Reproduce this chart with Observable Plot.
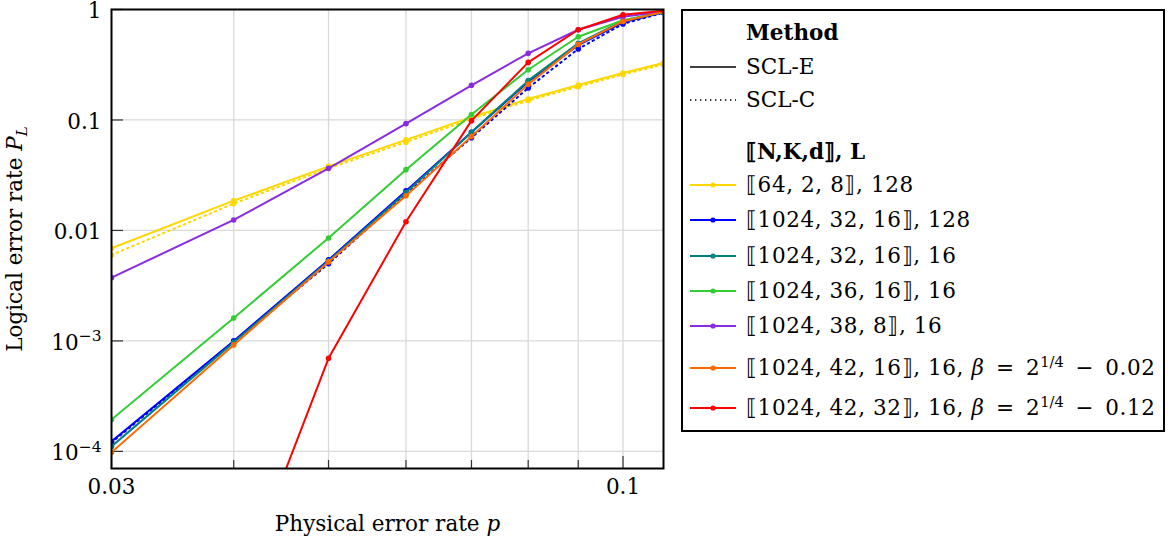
<!DOCTYPE html>
<html><head><meta charset="utf-8">
<script src="https://cdn.jsdelivr.net/npm/d3@7"></script>
<script src="https://cdn.jsdelivr.net/npm/@observablehq/plot@0.6"></script>
<style>
body{margin:0;background:#fff;}
#wrap{position:relative;width:1168px;height:540px;font-family:"DejaVu Serif",serif;}
#legend{position:absolute;left:681px;top:9px;width:480px;height:419px;border:2px solid #000;background:#fff;box-sizing:content-box;}
.row{position:absolute;left:0;height:34px;display:flex;align-items:center;font-size:21.5px;white-space:nowrap;color:#000;}
.row svg{margin-left:7px;margin-right:10px;flex:none;}
.row .t{line-height:1}
.row .m{letter-spacing:0.6px}
.row .op{margin:0 4px}
.row sup{font-size:0.68em;vertical-align:0.55em;line-height:0;letter-spacing:0}
</style></head><body><div id="wrap"></div>
<script>
// ---- data ----
const p = [0.03, 0.04, 0.05, 0.06, 0.07, 0.08, 0.09, 0.1, 0.11];

const seriesLabels = [
  "⟦64, 2, 8⟧, 128",
  "⟦1024, 32, 16⟧, 128",
  "⟦1024, 32, 16⟧, 16",
  "⟦1024, 36, 16⟧, 16",
  "⟦1024, 38, 8⟧, 16",
  "⟦1024, 42, 16⟧, 16, <i>β</i> <span class=\"op\">=</span> 2<sup>1/4</sup> <span class=\"op\">−</span> 0.02",
  "⟦1024, 42, 32⟧, 16, <i>β</i> <span class=\"op\">=</span> 2<sup>1/4</sup> <span class=\"op\">−</span> 0.12"
];
const seriesColors = ["#ffd700", "#0000ff", "#008080", "#33cc33", "#8a2be2", "#ff6a00", "#ff0000"];

// SCL-E (solid)
const yellowE = [6.9e-3, 0.0186, 0.038, 0.066, 0.106, 0.155, 0.207, 0.266, 0.328];
const blueE   = [1.23e-4, 1.0e-3, 5.41e-3, 0.0228, 0.0775, 0.222, 0.475, 0.765, 0.94];
const tealE   = [1.11e-4, 9.7e-4, 5.3e-3, 0.0220, 0.0773, 0.227, 0.494, 0.79, 0.95];
const greenE  = [1.94e-4, 1.61e-3, 8.55e-3, 0.0355, 0.112, 0.285, 0.567, 0.80, 0.945];
const purpleE = [3.74e-3, 0.01245, 0.0365, 0.0926, 0.206, 0.401, 0.656, 0.86, 0.96];
const orangeE = [9.8e-5, 9.2e-4, 5.19e-3, 0.0206, 0.071, 0.21, 0.483, 0.78, 0.955];
const redE    = [null, 4.1e-6, 6.96e-4, 0.0120, 0.0986, 0.332, 0.656, 0.897, 0.975];

// SCL-C (dotted)
const yellowC = [6.0e-3, 0.0175, 0.0365, 0.063, 0.102, 0.150, 0.200, 0.258, 0.318];
const blueC   = [1.2e-4, 9.8e-4, 5.0e-3, 0.0215, 0.069, 0.195, 0.44, 0.74, 0.935];

const seriesE = [yellowE, blueE, tealE, greenE, purpleE, orangeE, redE];
const seriesC = [yellowC, blueC, null, null, null, null, null];

const xGrid = [0.04, 0.05, 0.06, 0.07, 0.08, 0.09, 0.1];
const xMinorTicks = [0.04, 0.05, 0.06, 0.07, 0.08, 0.09];
const xTicks = [0.03, 0.1];
const xTickLabels = ["0.03", "0.1"];
const yTicks = [1e-4, 1e-3, 1e-2, 1e-1, 1];
const yTickLabels = ["10^−4", "10^−3", "0.01", "0.1", "1"];

// ---- layout ----
const W = 1168, H = 540, mL = 111, mR = 505, mT = 9, mB = 72;
const frameH = H - mT - mB, frameW = W - mL - mR;

function toRows(vals, i) {
  const out = [];
  vals.forEach((v, j) => { if (v != null) out.push({p: p[j], PL: v, s: i}); });
  return out;
}

const marks = [
  Plot.gridX(xGrid, {stroke: "#d9d9d9", strokeOpacity: 1, strokeWidth: 1.3}),
  Plot.gridY(yTicks.slice(0, 4), {stroke: "#d9d9d9", strokeOpacity: 1, strokeWidth: 1.3}),
  Plot.ruleX(xMinorTicks, {stroke: "#333", strokeWidth: 1.2, insetTop: frameH - 8}),
  Plot.ruleX(xTicks, {stroke: "#333", strokeWidth: 1.2, insetTop: frameH - 12}),
  Plot.ruleY(yTicks, {stroke: "#333", strokeWidth: 1.2, insetRight: frameW - 12})
];

seriesE.forEach((vals, i) => {
  const c = seriesColors[i];
  if (seriesC[i]) {
    const dc = toRows(seriesC[i], i);
    marks.push(Plot.line(dc, {x: "p", y: "PL", stroke: c, strokeWidth: 2, strokeDasharray: "1.6,4", clip: true}));
    marks.push(Plot.dot(dc, {x: "p", y: "PL", fill: c, r: 2.8, clip: true}));
  }
  const de = toRows(vals, i);
  marks.push(Plot.line(de, {x: "p", y: "PL", stroke: c, strokeWidth: 2, clip: true}));
  marks.push(Plot.dot(de, {x: "p", y: "PL", fill: c, r: 2.8, clip: true}));
});

marks.push(
  Plot.frame({stroke: "#000", strokeWidth: 2}),
  Plot.axisX(xTicks, {tickSize: 0, tickPadding: 10, tickFormat: d => xTickLabels[xTicks.indexOf(d)],
    label: "Physical error rate p", labelAnchor: "center", labelOffset: 62}),
  Plot.axisY(yTicks, {tickSize: 0, tickPadding: 10, dy: 2, tickFormat: d => yTickLabels[yTicks.indexOf(d)],
    label: "Logical error rate PL", labelAnchor: "center", labelOffset: 105})
);

const chart = Plot.plot({
  width: W, height: H,
  marginLeft: mL, marginRight: mR, marginTop: mT, marginBottom: mB,
  style: {fontFamily: "DejaVu Serif, serif", fontSize: "21.5px", color: "#000", background: "#fff", overflow: "visible"},
  x: {type: "log", domain: [0.03, 0.11]},
  y: {type: "log", domain: [7e-5, 1]},
  marks
});

const wrap = document.getElementById("wrap");
wrap.appendChild(chart);

// superscripts in y tick labels
d3.select(chart).selectAll('g[aria-label="y-axis tick label"] text').each(function() {
  const t = d3.select(this);
  const s = t.text();
  if (s.includes("^")) {
    const [base, exp] = s.split("^");
    t.text(base);
    t.append("tspan").attr("font-size", "0.72em").attr("dy", "-0.55em").text(exp);
  }
});

// italic math in axis labels
const xl = d3.select(chart).select('g[aria-label="x-axis label"] text');
xl.text("Physical error rate ").append("tspan").attr("font-style", "italic").text("p");
const yl = d3.select(chart).select('g[aria-label="y-axis label"] text');
yl.text("Logical error rate ");
yl.append("tspan").attr("font-style", "italic").text("P");
yl.append("tspan").attr("font-style", "italic").attr("font-size", "0.7em").attr("dy", "0.35em").text("L");

// ---- legend ----
const legend = document.createElement("div");
legend.id = "legend";
wrap.appendChild(legend);

function sample(color, dotted, marker) {
  let s = `<svg width="46" height="10" viewBox="0 0 46 10"><line x1="0" y1="5" x2="46" y2="5" stroke="${color}" stroke-width="${color === '#000' ? 1.4 : 2}" ${dotted ? 'stroke-dasharray="1.4,3.6"' : ''}/>`;
  if (marker) s += `<circle cx="23" cy="5" r="2.6" fill="${color}"/>`;
  return s + "</svg>";
}
const legendRows = [
  {cy: 33, html: "<b>Method</b>", svg: null},
  {cy: 67, html: "SCL-E", svg: sample("#000", false, false)},
  {cy: 100, html: "SCL-C", svg: sample("#000", true, false)},
  {cy: 152, html: "<b>⟦N,K,d⟧, L</b>", svg: null}
];
const seriesCy = [185, 220, 256, 291, 326, 368, 408];
seriesLabels.forEach((lab, i) => legendRows.push({cy: seriesCy[i], html: `<span class="m">${lab}</span>`, svg: sample(seriesColors[i], false, true)}));
legendRows.forEach(r => {
  const d = document.createElement("div");
  d.className = "row";
  d.style.top = (r.cy - 11 - 17) + "px";
  d.innerHTML = (r.svg || '<svg width="46" height="10"></svg>') + `<span class="t">${r.html}</span>`;
  legend.appendChild(d);
});
</script></body></html>
